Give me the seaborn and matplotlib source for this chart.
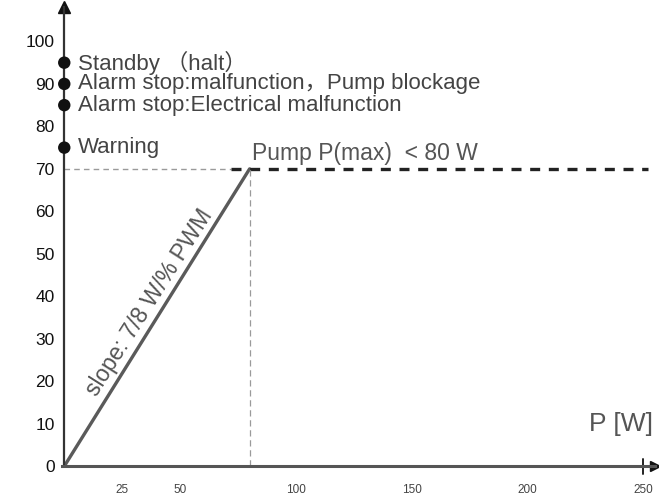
import matplotlib
matplotlib.use("Agg")
from matplotlib import pyplot as plt
from matplotlib.ticker import MultipleLocator
import seaborn as sns
import numpy as np
import pandas as pd

# PWM [%] vs pump power [W]
power_w = [0, 80, 252]
pwm_pct = [0, 70, 70]

status_pwm = [95, 90, 85, 75]
status_labels = ["Standby （halt）",
                 "Alarm stop:malfunction，Pump blockage",
                 "Alarm stop:Electrical malfunction",
                 "Warning"]

x_ticks = [25, 50, 100, 150, 200, 250]
y_ticks = [0, 10, 20, 30, 40, 50, 60, 70, 80, 90, 100]

sns.set_style("white")
plt.rcParams['font.family'] = ['Liberation Sans', 'Noto Sans CJK SC', 'DejaVu Sans']

fig = plt.figure(figsize=(6.59, 4.96), dpi=100)
ax = fig.add_axes([0.094, 0.06, 0.9, 0.925])
ax.set_xlim(-1, 255)
ax.set_ylim(0, 108)

df = pd.DataFrame({"P": power_w[:2], "PWM": pwm_pct[:2]})
sns.lineplot(data=df, x="P", y="PWM", ax=ax, color="#5a5a5a", linewidth=2.4)

# max power limit
ax.plot([0, 72], [70, 70], color="#9a9a9a", lw=1, ls=(0, (4, 3)))
ax.plot([72, power_w[2]], [70, 70], color="#222222", lw=2.4, ls=(0, (3, 2.6)))
ax.plot([power_w[1], power_w[1]], [0, 70], color="#9a9a9a", lw=0.9, ls=(0, (5, 3)))

# status markers on the PWM axis
sdf = pd.DataFrame({"P": [0] * len(status_pwm), "PWM": status_pwm})
sns.scatterplot(data=sdf, x="P", y="PWM", ax=ax, color="#111111", s=80,
                edgecolor="none", clip_on=False, zorder=5)
for yv, lab in zip(status_pwm, status_labels):
    ax.text(6, yv, lab, fontsize=16, color="#444444", va="center", ha="left")

ax.text(81, 71.0, "Pump P(max)  < 80 W", fontsize=16.5, color="#555555",
        va="bottom", ha="left")
ax.text(36.8, 38.5, "slope: 7/8 W/% PWM", fontsize=16.5, color="#555555",
        rotation=57.5, rotation_mode="anchor", ha="center", va="center")
ax.text(254, 10, "P [W]", fontsize=19, color="#555555", ha="right", va="center")

# axes styling
for s in ["top", "right"]:
    ax.spines[s].set_visible(False)
ax.spines["left"].set_color("#333333")
ax.spines["left"].set_linewidth(1.6)
ax.spines["bottom"].set_color("#555555")
ax.spines["bottom"].set_linewidth(2.2)
ax.spines["left"].set_position(("data", 0))
ax.plot(0, 1, "^", color="#111111", ms=8, transform=ax.get_xaxis_transform(), clip_on=False)
ax.plot(1, 0, ">", color="#111111", ms=7, transform=ax.get_yaxis_transform(), clip_on=False)
ax.plot([250, 250], [-1.8, 1.8], color="#222222", lw=1.4, clip_on=False)

ax.set_xticks(x_ticks)
ax.set_xticklabels([str(t) for t in x_ticks], fontsize=8.5, color="#444444")
ax.xaxis.set_minor_locator(MultipleLocator(2.5))
ax.set_yticks(y_ticks)
ax.set_yticklabels([str(t) for t in y_ticks], fontsize=12.5, color="#111111")
ax.tick_params(axis="x", which="major", direction="out", length=4, width=1, color="#777777", pad=9)
ax.tick_params(axis="x", which="minor", direction="inout", length=3, width=0.6, color="#888888")
ax.tick_params(axis="y", direction="inout", length=8, width=1, color="#444444", pad=3)
ax.set_xlabel("")
ax.set_ylabel("")

fig.savefig("out.png", dpi=100)
